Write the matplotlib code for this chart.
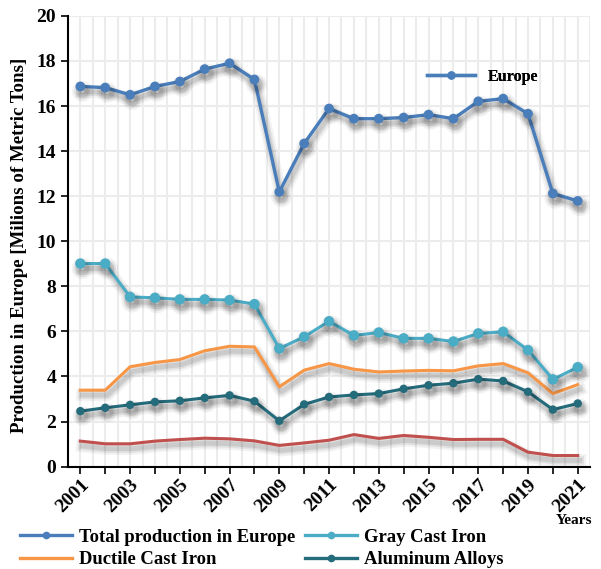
import numpy as np
import matplotlib
matplotlib.use("Agg")
import matplotlib.pyplot as plt
import matplotlib.patheffects as pe
from matplotlib.lines import Line2D

plt.rcParams["font.family"] = ["Liberation Serif", "DejaVu Serif"]
plt.rcParams["font.weight"] = "bold"
plt.rcParams["axes.labelweight"] = "bold"

# --- Data (millions of metric tons) ---
years = list(range(2001, 2022))
total = [16.87, 16.82, 16.50, 16.87, 17.09, 17.64, 17.90, 17.18, 12.19, 14.34, 15.89,
         15.44, 15.44, 15.49, 15.62, 15.44, 16.21, 16.33, 15.66, 12.12, 11.79]
gray_iron = [9.01, 9.01, 7.53, 7.49, 7.42, 7.42, 7.39, 7.21, 5.24, 5.76, 6.45,
             5.82, 5.95, 5.69, 5.69, 5.55, 5.91, 5.98, 5.17, 3.87, 4.41]
ductile_iron = [3.39, 3.39, 4.43, 4.62, 4.75, 5.14, 5.34, 5.31, 3.54, 4.28, 4.57,
                4.32, 4.20, 4.24, 4.27, 4.25, 4.47, 4.57, 4.16, 3.24, 3.64]
aluminum = [2.46, 2.61, 2.74, 2.87, 2.92, 3.05, 3.16, 2.90, 2.03, 2.76, 3.09,
            3.18, 3.24, 3.45, 3.61, 3.70, 3.88, 3.80, 3.32, 2.53, 2.80]
other = [1.13, 1.01, 1.01, 1.13, 1.20, 1.26, 1.23, 1.14, 0.94, 1.05, 1.17,
         1.42, 1.25, 1.38, 1.30, 1.20, 1.21, 1.21, 0.64, 0.49, 0.49]

c_total = "#4a7ebb"
c_gray = "#4bacc6"
c_duct = "#f79646"
c_alu = "#246b7b"
c_other = "#c0504d"


def shadow():
    return [pe.SimpleLineShadow(offset=(1.5, -3.5), shadow_color="black", alpha=0.05, linewidth=9),
            pe.SimpleLineShadow(offset=(1.5, -3.5), shadow_color="black", alpha=0.07, linewidth=6),
            pe.SimpleLineShadow(offset=(1.5, -3.5), shadow_color="black", alpha=0.09, linewidth=3.5),
            pe.Normal()]


fig = plt.figure(figsize=(6.01, 5.69), dpi=100)
ax = fig.add_axes([0.113, 0.180, 0.869, 0.792])

ax.plot(years, other, color=c_other, lw=2.2, path_effects=shadow(), zorder=3)
ax.plot(years, aluminum, color=c_alu, lw=2.2, marker="o", ms=5,
        path_effects=shadow(), zorder=4)
ax.plot(years, ductile_iron, color=c_duct, lw=2.2, path_effects=shadow(), zorder=4)
ax.plot(years, gray_iron, color=c_gray, lw=2.2, marker="o", ms=6.5,
        path_effects=shadow(), zorder=5)
ax.plot(years, total, color=c_total, lw=2.4, marker="o", ms=6,
        path_effects=shadow(), zorder=6)

ax.set_xlim(2000.5, 2021.5)
ax.set_ylim(0, 20)
ax.set_yticks(np.arange(0, 21, 2))
ax.set_xticks(years)
ax.set_xticklabels([str(y) if y % 2 == 1 else "" for y in years],
                   rotation=45, ha="right", rotation_mode="anchor")
ax.set_xticks(np.arange(2000.5, 2021.6, 0.5), minor=True)
ax.tick_params(axis="x", which="minor", length=0)
ax.tick_params(axis="both", which="major", labelsize=14, direction="out", length=5, width=1.2)
ax.tick_params(axis="x", which="major", pad=2)

ax.grid(True, which="both", axis="x", color="#ececec", lw=1.5, zorder=0)
ax.grid(True, which="major", axis="y", color="#ececec", lw=1.5, zorder=0)
ax.set_axisbelow(True)
for s in ["top", "right"]:
    ax.spines[s].set_visible(False)
for s in ["left", "bottom"]:
    ax.spines[s].set_linewidth(1.5)

ax.set_ylabel("Production in Europe [Milions of Metric Tons]", fontsize=13.6)
ax.yaxis.set_label_coords(-0.077, 0.49)
fig.text(0.985, 0.085, "Years", ha="right", va="center", fontsize=11)

# small "Europe" legend inside the plot
eu = Line2D([0], [0], color=c_total, lw=2.4, marker="o", ms=5)
leg_in = ax.legend([eu], ["Europe"], loc="upper left", bbox_to_anchor=(0.66, 0.915),
                   frameon=False, fontsize=11.5, handlelength=3.0, numpoints=1)
ax.add_artist(leg_in)

# bottom legend (proxy handles, without shadows)
h_tot = Line2D([0], [0], color=c_total, lw=2.4, marker="o", ms=4.5)
h_duct = Line2D([0], [0], color=c_duct, lw=2.4)
h_gray = Line2D([0], [0], color=c_gray, lw=2.4, marker="o", ms=4.5)
h_alu = Line2D([0], [0], color=c_alu, lw=2.4, marker="o", ms=4.5)
fig.legend([h_tot, h_duct, h_gray, h_alu],
           ["Total production in Europe", "Ductile Cast Iron", "Gray Cast Iron", "Aluminum Alloys"],
           ncol=2, loc="lower left", bbox_to_anchor=(0.005, -0.028), frameon=False,
           fontsize=13.4, handlelength=2.8, numpoints=1,
           columnspacing=0.5, labelspacing=0.3, handletextpad=0.4)

fig.savefig("out.png", dpi=100)
